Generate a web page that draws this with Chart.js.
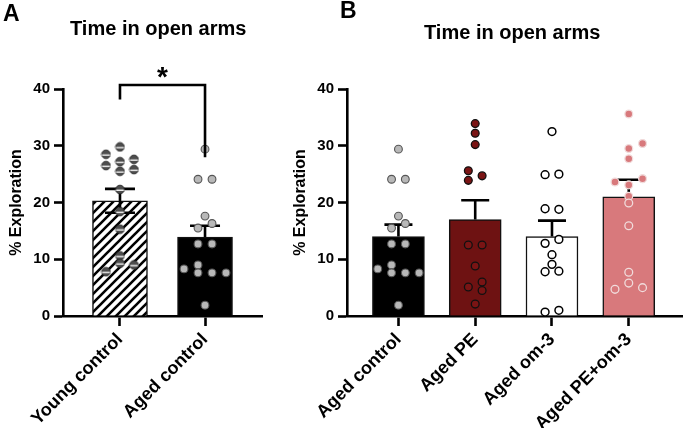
<!DOCTYPE html>
<html>
<head>
<meta charset="utf-8">
<title>Time in open arms</title>
<script src="https://cdn.jsdelivr.net/npm/chart.js@4.4.1/dist/chart.umd.min.js"></script>
<style>
  html, body { margin: 0; padding: 0; background: #fff; }
  #wrap { position: relative; width: 688px; height: 428px; overflow: hidden;
          font-family: "Liberation Sans", Arial, sans-serif; font-weight: bold; color: #000; }
  canvas { position: absolute; top: 0; }
  #cvA { left: 0; }
  #cvB { left: 285px; }
  .letter { position: absolute; font-size: 23px; line-height: 23px; }
  .title  { position: absolute; font-size: 20px; line-height: 20px; white-space: nowrap; }
</style>
</head>
<body>
<div id="wrap">
  <canvas id="cvA" width="285" height="428"></canvas>
  <canvas id="cvB" width="403" height="428"></canvas>
  <div class="letter" style="left:3px; top:2px;">A</div>
  <div class="title" style="left:70px; top:18px;">Time in open arms</div>
  <div class="letter" style="left:340px; top:-1px;">B</div>
  <div class="title" style="left:424px; top:22px;">Time in open arms</div>
</div>

<script>
// ─── DATOS ─────────────────────────────────────────────────────────────────
const yTicks = [0, 10, 20, 30, 40];

// Panel A
const groupsA = ['Young control', 'Aged control'];
const meansA  = [20.3, 13.9];
const semA    = [2.1, 2.0];

const youngVals  = [29.8, 28.5, 27.6, 27.2, 26.5, 25.8, 25.5, 22.3, 18.4, 15.3, 10.6, 9.3, 9.0, 7.8];
const youngSlots = [0, -2, 2, 0, -2, 2, 0, 0, 0, 0, 0, 0, 2, -2];

const agedCtrlVals  = [29.4, 24.1, 24.1, 17.6, 16.3, 15.5, 12.7, 12.7, 9.0, 8.3, 7.6, 7.6, 7.6, 1.9];
const agedCtrlSlots = [0, -1, 1, 0, 1, -1, -1, 1, -1, -3, -1, 1, 3, 0];

// Panel B
const groupsB = ['Aged control', 'Aged PE', 'Aged om-3', 'Aged PE+om-3'];
const meansB  = [14.0, 17.0, 14.0, 21.0];
const semB    = [2.1, 3.4, 2.8, 3.0];

const agedPeVals  = [33.9, 32.2, 30.2, 25.6, 24.7, 23.9, 12.5, 12.5, 8.8, 6.0, 5.1, 4.5, 2.1];
const agedPeSlots = [0, 0, 0, -1, 1, -1, -1, 1, 0, 1, -1, 1, 0];

const agedOmVals  = [32.5, 24.9, 25.0, 18.9, 18.8, 13.5, 12.8, 10.8, 9.1, 7.8, 7.9, 0.7, 1.0];
const agedOmSlots = [0, -1, 1, -1, 1, 1, -1, 0, 0, -1, 1, -1, 1];

const agedPeOmVals  = [35.6, 30.4, 29.5, 27.7, 24.2, 23.6, 23.1, 21.1, 19.9, 15.9, 7.7, 5.8, 5.0, 4.7];
const agedPeOmSlots = [0, 2, 0, 0, 2, -2, 0, 0, 0, 0, 0, 0, 2, -2];


// ─── ESTILO ────────────────────────────────────────────────────────────────
const FONT = '"Liberation Sans", Arial, sans-serif';

// patrón rayado para la barra "Young control"
function hatchPattern() {
  const c = document.createElement('canvas');
  c.width = 9; c.height = 9;
  const g = c.getContext('2d');
  g.fillStyle = '#fff';
  g.fillRect(0, 0, 9, 9);
  g.strokeStyle = '#000';
  g.lineWidth = 2.6;
  g.beginPath();
  g.moveTo(-1, 10); g.lineTo(10, -1);
  g.moveTo(-2, 2);  g.lineTo(2, -2);
  g.moveTo(7, 11);  g.lineTo(11, 7);
  g.stroke();
  return g.createPattern(c, 'repeat');
}

// símbolo semi-relleno de los puntos "Young control"
function halfDot() {
  const c = document.createElement('canvas');
  c.width = 11; c.height = 11;
  const g = c.getContext('2d');
  g.beginPath();
  g.arc(5.5, 5.5, 4.3, 0, Math.PI * 2);
  g.fillStyle = '#4d4d4d';
  g.fill();
  g.lineWidth = 1;
  g.strokeStyle = '#2a2a2a';
  g.stroke();
  g.fillStyle = '#fff';
  g.fillRect(1.5, 5.6, 8, 1.3);
  return c;
}

function points(vals, slots, idx, slotW) {
  return vals.map((v, k) => ({ x: idx + slots[k] * slotW, y: v }));
}

function dotSet(data, fill, border, width, style) {
  return {
    type: 'scatter',
    data,
    order: 0,
    clip: false,
    pointRadius: 3.9,
    pointStyle: style || 'circle',
    pointBackgroundColor: fill,
    pointBorderColor: border,
    pointBorderWidth: width
  };
}


// ─── PLUGINS ───────────────────────────────────────────────────────────────
const errorBars = {
  id: 'errorBars',
  afterDatasetDraw(chart, args, opts) {
    if (chart.data.datasets[args.index].type !== 'bar') return;
    const { x, y } = chart.scales;
    const ctx = chart.ctx;
    ctx.save();
    ctx.strokeStyle = '#000';
    ctx.lineWidth = 2.6;
    opts.means.forEach((m, i) => {
      const px = x.getPixelForValue(i);
      const top = y.getPixelForValue(m + opts.sems[i]);
      const bot = y.getPixelForValue(opts.down[i] ? m - opts.sems[i] : m);
      ctx.beginPath();
      ctx.moveTo(px, y.getPixelForValue(m));
      ctx.lineTo(px, top);
      ctx.moveTo(px - opts.cap / 2, top);
      ctx.lineTo(px + opts.cap / 2, top);
      if (opts.down[i]) {
        ctx.moveTo(px, y.getPixelForValue(m));
        ctx.lineTo(px, bot);
        ctx.moveTo(px - opts.cap / 2, bot);
        ctx.lineTo(px + opts.cap / 2, bot);
      }
      ctx.stroke();
    });
    ctx.restore();
  }
};

const sigBracket = {
  id: 'sigBracket',
  afterDraw(chart, args, opts) {
    if (!opts.show) return;
    const { x, y } = chart.scales;
    const ctx = chart.ctx;
    const x0 = x.getPixelForValue(opts.from);
    const x1 = x.getPixelForValue(opts.to);
    const yt = y.getPixelForValue(opts.top);
    ctx.save();
    ctx.strokeStyle = '#000';
    ctx.lineWidth = 2.6;
    ctx.lineCap = 'square';
    ctx.beginPath();
    ctx.moveTo(x0, y.getPixelForValue(opts.leftEnd));
    ctx.lineTo(x0, yt);
    ctx.lineTo(x1, yt);
    ctx.lineTo(x1, y.getPixelForValue(opts.rightEnd));
    ctx.stroke();
    ctx.fillStyle = '#000';
    ctx.font = `bold 28px ${FONT}`;
    ctx.textAlign = 'center';
    ctx.textBaseline = 'alphabetic';
    ctx.fillText(opts.label, (x0 + x1) / 2, y.getPixelForValue(opts.labelAt) + 16);
    ctx.restore();
  }
};


// ─── CONSTRUCCIÓN DE GRÁFICAS ──────────────────────────────────────────────
function makeChart(id, cfg) {
  const labels = cfg.groups;
  return new Chart(document.getElementById(id), {
    data: {
      datasets: [
        {
          type: 'bar',
          data: cfg.means.map((m, i) => ({ x: i, y: m })),
          order: 1,
          backgroundColor: cfg.barColors,
          borderColor: '#111',
          borderWidth: 1.5,
          barThickness: cfg.barW
        },
        ...cfg.dots
      ]
    },
    options: {
      responsive: false,
      animation: false,
      events: [],
      layout: { padding: { left: 0, top: 89, right: cfg.padRight, bottom: 0 } },
      plugins: {
        legend: { display: false },
        tooltip: { enabled: false },
        errorBars: { means: cfg.means, sems: cfg.sems, down: cfg.down, cap: cfg.cap },
        sigBracket: cfg.bracket
      },
      scales: {
        x: {
          type: 'linear',
          offset: false,
          min: cfg.xMin,
          max: cfg.xMax,
          afterBuildTicks: s => { s.ticks = labels.map((_, i) => ({ value: i })); },
          afterFit: s => { s.height = 428 - 316; },
          border: { color: '#000', width: 2.6 },
          grid: { offset: false, drawOnChartArea: false, drawTicks: true, tickLength: 10, tickWidth: 2.6, tickColor: '#000' },
          ticks: {
            callback: (v, i) => labels[i],
            minRotation: 45,
            maxRotation: 45,
            autoSkip: false,
            padding: 3,
            color: '#000',
            font: { family: FONT, size: 18, weight: 'bold' }
          }
        },
        y: {
          min: 0,
          max: 40,
          afterBuildTicks: s => { s.ticks = yTicks.map(v => ({ value: v })); },
          afterFit: s => { s.width = cfg.yAxisX; },
          border: { color: '#000', width: 2.6 },
          grid: { drawOnChartArea: false, drawTicks: true, tickLength: 9, tickWidth: 2.6, tickColor: '#000' },
          ticks: {
            padding: 4,
            color: '#000',
            font: { family: FONT, size: 15, weight: 'bold' }
          },
          title: {
            display: true,
            text: '% Exploration',
            color: '#000',
            padding: { top: cfg.titlePad, bottom: 0 },
            font: { family: FONT, size: 16, weight: 'bold' }
          }
        }
      }
    },
    plugins: [errorBars, sigBracket]
  });
}

const slotA = 7 / 85;
const slotB = 7 / 78;

makeChart('cvA', {
  groups: groupsA,
  means: meansA,
  sems: semA,
  down: [true, false],
  barColors: [hatchPattern(), '#000'],
  barW: 55,
  cap: 30,
  xMin: -0.67,
  xMax: 1.67,
  yAxisX: 63,
  padRight: 285 - 262,
  titlePad: 7,
  bracket: { show: true, from: 0, to: 1, top: 40.7, leftEnd: 38.4, rightEnd: 28.2, labelAt: 43.4, label: '*' },
  dots: [
    dotSet(points(youngVals, youngSlots, 0, slotA), '#4d4d4d', '#2a2a2a', 1, halfDot()),
    dotSet(points(agedCtrlVals, agedCtrlSlots, 1, slotA), '#b8b8b8', '#555', 1.1)
  ]
});

makeChart('cvB', {
  groups: groupsB,
  means: meansB,
  sems: semB,
  down: [false, false, false, false],
  barColors: ['#000', '#6e1212', '#fff', '#d8797c'],
  barW: 52,
  cap: 28,
  xMin: -0.67,
  xMax: 3.70,
  yAxisX: 62,
  padRight: 0,
  titlePad: 6,
  bracket: { show: false },
  dots: [
    dotSet(points(agedCtrlVals, agedCtrlSlots, 0, slotB), '#b8b8b8', '#555', 1.1),
    dotSet(points(agedPeVals, agedPeSlots, 1, slotB), '#7a1414', '#111', 1.3),
    dotSet(points(agedOmVals, agedOmSlots, 2, slotB), '#fff', '#000', 1.5),
    dotSet(points(agedPeOmVals, agedPeOmSlots, 3, slotB), '#d8797c', '#f1dcdc', 1.3)
  ]
});
</script>
</body>
</html>
